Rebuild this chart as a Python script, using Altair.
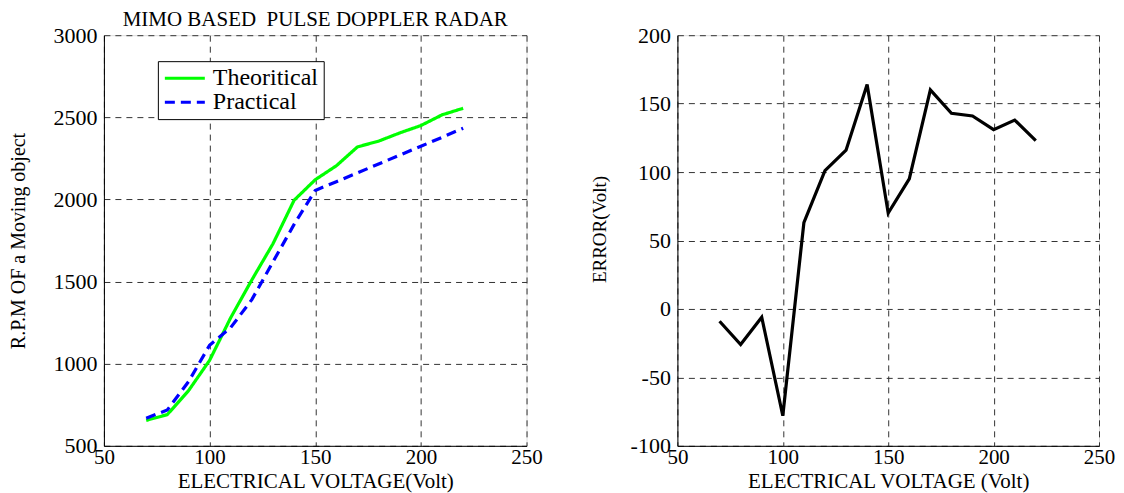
import altair as alt
import pandas as pd

voltage = [70, 80, 90, 100, 110, 120, 130, 140, 150, 160, 170, 180, 190, 200, 210, 220]
theoritical = [655, 690, 835, 1020, 1280, 1510, 1730, 1995, 2120, 2205, 2320, 2355, 2405, 2450, 2515, 2555]
practical = [668, 718, 890, 1112, 1220, 1390, 1620, 1848, 2055, 2108, 2162, 2216, 2270, 2324, 2378, 2434]
error = [-9, -26, -6, -78, 63, 101, 116, 164, 70, 95, 160, 143, 141, 131, 138, 123]

series_names = ["Theoritical", "Practical"]
x_ticks = [50, 100, 150, 200, 250]
rpm_ticks = [500, 1000, 1500, 2000, 2500, 3000]
err_ticks = [-100, -50, 0, 50, 100, 150, 200]

left_df = pd.DataFrame({
    "voltage": voltage + voltage,
    "rpm": theoritical + practical,
    "series": [series_names[0]] * len(voltage) + [series_names[1]] * len(voltage),
})
err_df = pd.DataFrame({"voltage": voltage, "error": error})

FONT = "Liberation Serif"

def axis(values, title, title_size, title_pad, label_pad=6, label_size=22, **extra):
    return alt.Axis(
        values=values,
        title=title,
        grid=True,
        gridDash=[6, 5],
        gridColor="#333333",
        gridWidth=1,
        gridOpacity=1,
        domain=True,
        domainColor="black",
        domainWidth=1,
        ticks=False,
        labelFlush=False,
        labelFont=FONT,
        labelFontSize=label_size,
        labelColor="black",
        labelPadding=label_pad,
        labelExpr="'' + datum.value",
        titleFont=FONT,
        titleFontSize=title_size,
        titleFontWeight="normal",
        titleColor="black",
        titlePadding=title_pad,
        **extra,
    )

legend_kw = dict(
    title=None,
    orient="none",
    legendX=54,
    legendY=26,
    strokeColor="black",
    fillColor="white",
    padding=5,
    symbolType="M-1,0H3",
    symbolSize=400,
    symbolStrokeWidth=3,
    labelFont=FONT,
    labelFontSize=24,
    labelColor="black",
    labelOffset=26,
    rowPadding=0,
    cornerRadius=0,
)

left = alt.Chart(left_df).mark_line(strokeWidth=3.2).encode(
    x=alt.X("voltage:Q", scale=alt.Scale(domain=[50, 250], nice=False),
            axis=axis(x_ticks, "ELECTRICAL VOLTAGE(Volt)", 21, 3, 1, 21)),
    y=alt.Y("rpm:Q", scale=alt.Scale(domain=[500, 3000], nice=False),
            axis=axis(rpm_ticks, "R.P.M OF a Moving object", 20, 24, 7)),
    color=alt.Color("series:N", scale=alt.Scale(domain=series_names, range=["#00ff00", "#0000ff"]),
                    legend=alt.Legend(**legend_kw)),
    strokeDash=alt.StrokeDash("series:N", scale=alt.Scale(domain=series_names, range=[[1, 0], [10, 6]]),
                              legend=alt.Legend(**legend_kw)),
    detail="series:N",
).properties(
    width=423,
    height=411,
    title=alt.TitleParams(
        "MIMO BASED\u00a0 PULSE DOPPLER RADAR",
        font=FONT, fontSize=21, fontWeight="normal", color="black",
        anchor="middle", offset=-6,
    ),
)

right = alt.Chart(err_df).mark_line(strokeWidth=3.2, color="black").encode(
    x=alt.X("voltage:Q", scale=alt.Scale(domain=[50, 250], nice=False),
            axis=axis(x_ticks, "ELECTRICAL VOLTAGE (Volt)", 21, 3, 1, 21)),
    y=alt.Y("error:Q", scale=alt.Scale(domain=[-100, 200], nice=False),
            axis=axis(err_ticks, "ERROR(Volt)", 19, 21, 7, titleY=194)),
).properties(width=422, height=411)

chart = alt.hconcat(left, right, spacing=151, bounds="flush",
                    padding={"left": 0, "top": 0, "right": 0, "bottom": 0}).configure_view(
    stroke="black", strokeWidth=1
).configure(background="white")

chart.save("out.html", embed_options={"renderer": "svg", "actions": False})
